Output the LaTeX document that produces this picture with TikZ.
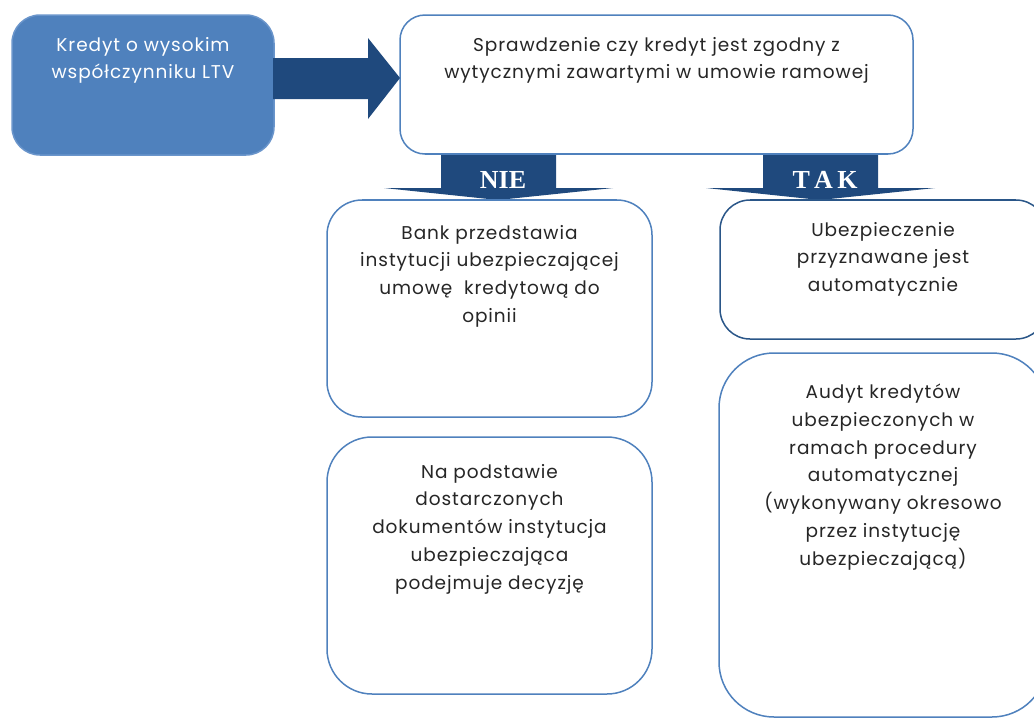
\documentclass[tikz,border=0pt]{standalone}
\usepackage{fontspec}
\setmainfont{Poppins}[LetterSpace=5]
\newfontfamily\labelfont{Liberation Serif}
\usetikzlibrary{calc}

\definecolor{accent}{HTML}{4F81BD}
\definecolor{accentedge}{HTML}{6A95CB}
\definecolor{navy}{HTML}{1F497D}
\definecolor{edgedark}{HTML}{2A5688}
\definecolor{ink}{HTML}{262626}

\begin{document}
\begin{tikzpicture}[x=1pt,y=-1pt,
  card/.style={draw=accent, line width=1.5pt, fill=white, rounded corners=#1,
    inner sep=0pt, outer sep=0pt},
  card/.default=30pt,
  txt/.style={anchor=north, align=center, inner sep=0pt, text=ink,
    font=\fontsize{18.5}{27.7}\selectfont},
  yesno/.style={text=white, inner sep=0pt,
    font=\labelfont\bfseries\fontsize{26}{28}\selectfont},
  pics/downblock/.style={code={
    \fill[navy] (-57,-45) -- (58,-45) -- (58,-12) -- (115,-12) -- (0,0)
      -- (-114,-12) -- (-57,-12) -- cycle;}}
]
\useasboundingbox (0,0) rectangle (1034,718);
\clip (0,0) rectangle (1034,718);

% boxes
\node[card=28pt, fill=accent, draw=accentedge, minimum width=262pt, minimum height=140pt]
  (start) at (143,85) {};
\node[card=25pt, minimum width=513pt, minimum height=139pt] (check) at (656.5,84.5) {};
\node[card=35pt, minimum width=325pt, minimum height=217pt] (bank) at (489.5,308.5) {};
\node[card=45pt, minimum width=325pt, minimum height=257pt] (decide) at (489.5,565.5) {};
\node[card=30pt, draw=edgedark, minimum width=326pt, minimum height=139pt] (auto) at (883,269.5) {};
\node[card=55pt, minimum width=328pt, minimum height=364pt] (audit) at (883,535) {};

% block arrow from the loan box to the check box
\coordinate (tipA) at ($(check.west)+(0,-6.5)$);
\fill[navy] ($(start.east|-tipA)+(-1,-20)$) -- ($(tipA)+(-32,-20)$)
  -- ($(tipA)+(-32,-40)$) -- (tipA) -- ($(tipA)+(-32,41)$)
  -- ($(tipA)+(-32,21)$) -- ($(start.east|-tipA)+(-1,21)$) -- cycle;

% downward block arrows for both answers
\coordinate (tipN) at ($(bank.north)+(8.5,0)$);
\coordinate (tipT) at ($(auto.north)+(-63,0)$);
\pic at (tipN) {downblock};
\pic at (tipT) {downblock};
\draw[accent, line width=1.5pt] ($(check.south west)+(25,0)$) -- ($(check.south east)+(-25,0)$);
\draw[accent, line width=1.5pt] ($(bank.north west)+(35,0)$) -- ($(bank.north east)+(-35,0)$);
\draw[edgedark, line width=1.5pt] ($(auto.north west)+(30,0)$) -- ($(auto.north east)+(-30,0)$);

\node[yesno] (nie) at ($(tipN)+(5,-20)$) {NIE};
\node[yesno] (tak) at ($(tipT)+(5,-20)$) {T\,A\,K};

% texts
\node[txt, text=white] (tstart) at ($(start.north)+(0,22)$)
  {Kredyt o wysokim\\współczynniku LTV};
\node[txt] (tcheck) at ($(check.north)+(0,22)$)
  {Sprawdzenie czy kredyt jest zgodny z\\wytycznymi zawartymi w umowie ramowej};
\node[txt] (tbank) at ($(bank.north)+(0,25)$)
  {Bank przedstawia\\instytucji ubezpieczającej\\umowę\ \ kredytową do\\opinii};
\node[txt] (tdecide) at ($(decide.north)+(0,27)$)
  {Na podstawie\\dostarczonych\\dokumentów instytucja\\ubezpieczająca\\podejmuje decyzję};
\node[txt] (tauto) at ($(auto.north)+(0,22)$)
  {Ubezpieczenie\\przyznawane jest\\automatycznie};
\node[txt] (taudit) at ($(audit.north)+(0,31)$)
  {Audyt kredytów\\ubezpieczonych w\\ramach procedury\\automatycznej\\(wykonywany okresowo\\przez instytucję\\ubezpieczającą)};
\end{tikzpicture}
\end{document}
